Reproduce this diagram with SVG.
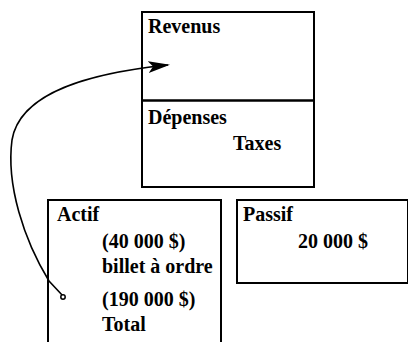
<svg xmlns="http://www.w3.org/2000/svg" width="408" height="342" viewBox="0 0 408 342">
<style>
.box{fill:#fff;stroke:#000;stroke-width:2}
.t{font-family:"Liberation Serif","Times New Roman",serif;font-weight:bold;font-size:20px;fill:#000}
.conn{fill:none;stroke:#000;stroke-width:1.6}
</style>
<defs>
<marker id="ah" viewBox="0 0 22 12" refX="20" refY="6" markerWidth="22" markerHeight="12" markerUnits="userSpaceOnUse" orient="auto">
<path d="M0,0 L22,6 L0,12 L5,6 Z" fill="#000"/>
</marker>
</defs>
<g id="revenus-depenses">
<rect class="box" x="142" y="12" width="172" height="175"/>
<line x1="142" y1="100.5" x2="314" y2="100.5" stroke="#000" stroke-width="2.5"/>
<text class="t" x="148" y="33">Revenus</text>
<text class="t" x="148" y="124">Dépenses</text>
<text class="t" x="233" y="150">Taxes</text>
</g>
<g id="actif">
<rect class="box" x="48" y="200" width="173" height="150"/>
<text class="t" x="57" y="221">Actif</text>
<text class="t" x="102" y="248">(40 000 $)</text>
<text class="t" x="102" y="273">billet à ordre</text>
<text class="t" x="102" y="306">(190 000 $)</text>
<text class="t" x="102" y="331">Total</text>
</g>
<g id="passif">
<rect class="box" x="237" y="200" width="171" height="83"/>
<text class="t" x="243" y="221">Passif</text>
<text class="t" x="298" y="248">20 000 $</text>
</g>
<g id="connectors">
<path class="conn" d="M63,296 L49,281 C24,240 6,185 12,140 C20,92 90,73 168,65" marker-end="url(#ah)"/>
<circle cx="63" cy="297" r="2.2" fill="#fff" stroke="#000" stroke-width="1.5"/>
</g>
</svg>
